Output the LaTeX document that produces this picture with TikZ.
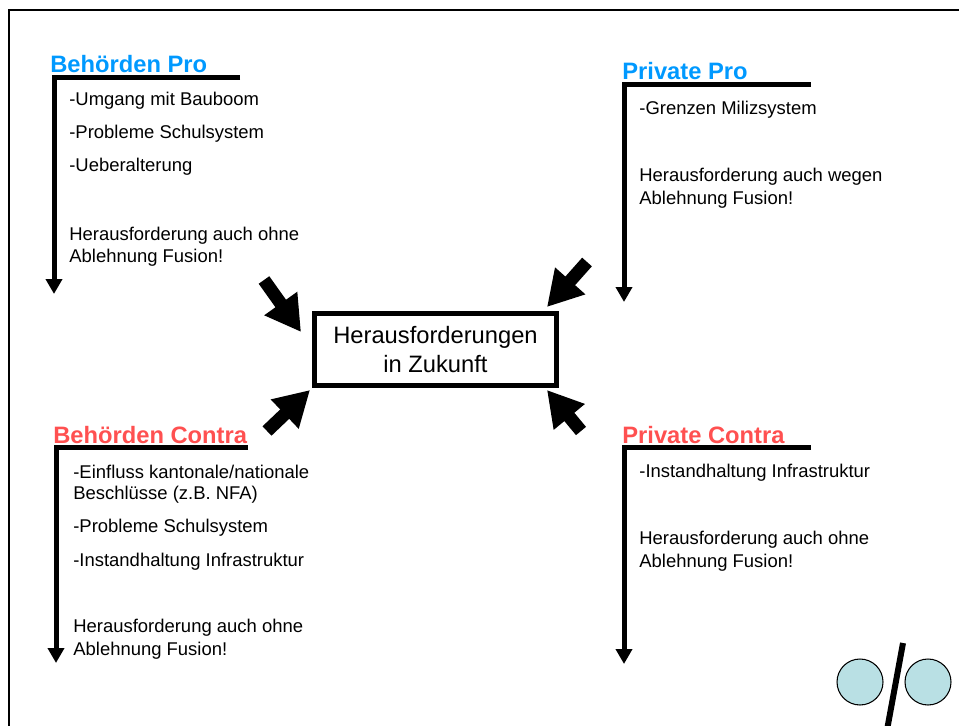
\documentclass[tikz,border=0pt]{standalone}
\usepackage{fontspec}
\setmainfont{Liberation Sans}
\usepackage{xcolor}
\usetikzlibrary{arrows.meta}

\definecolor{problue}{RGB}{0,153,255}
\definecolor{contrared}{RGB}{255,80,80}
\definecolor{circfill}{RGB}{185,224,228}

\begin{document}
\begin{tikzpicture}[x=0.02cm, y=-0.02cm,
    title/.style={anchor=base west, inner sep=0, font=\fontsize{13.5}{16}\selectfont\bfseries},
    item/.style={anchor=base west, inner sep=0, font=\fontsize{10.5}{12.5}\selectfont},
    bracket/.style={line width=0.1cm, -{Triangle[width=0.32cm,length=0.3cm]}},
    fat/.style={line width=0.26cm, -{Triangle[width=0.76cm,length=0.7cm]}}]
        \useasboundingbox (0,0) rectangle (959,726);

        % Frame
        \draw[line width=1.2pt] (960,10) -- (9,10) -- (9,727);

        % Centre
        \node[draw, line width=0.1cm, minimum width=4.84cm, minimum height=1.44cm, align=center,
              font=\fontsize{13.5}{16.4}\selectfont] (box) at (435.5,349.5) {Herausforderungen\\in Zukunft};

        % Behoerden Pro
        \node[title, text=problue] (bpTitle) at (50,73) {Behörden Pro};
        \coordinate (bpEnd) at (240,77.5);
        \coordinate (bpCorner) at (54,77.5);
        \coordinate (bpTip) at (54,294);
        \draw[bracket] (bpEnd) -- (bpCorner) -- (bpTip);
        \node[item] (bp1) at (69,106) {-Umgang mit Bauboom};
        \node[item] (bp2) at (69,139) {-Probleme Schulsystem};
        \node[item] (bp3) at (69,172) {-Ueberalterung};
        \node[item] (bp4) at (69,240) {Herausforderung auch ohne};
        \node[item] (bp5) at (69,262) {Ablehnung Fusion!};

        % Private Pro
        \node[title, text=problue] (ppTitle) at (622,80) {Private Pro};
        \coordinate (ppEnd) at (811,84.5);
        \coordinate (ppCorner) at (624,84.5);
        \coordinate (ppTip) at (624,302);
        \draw[bracket] (ppEnd) -- (ppCorner) -- (ppTip);
        \node[item] (pp1) at (639,115) {-Grenzen Milizsystem};
        \node[item] (pp2) at (639,182) {Herausforderung auch wegen};
        \node[item] (pp3) at (639,204) {Ablehnung Fusion!};

        % Behoerden Contra
        \node[title, text=contrared] (bcTitle) at (53,443) {Behörden Contra};
        \coordinate (bcEnd) at (248,447.5);
        \coordinate (bcCorner) at (56,447.5);
        \coordinate (bcTip) at (56,663);
        \draw[bracket] (bcEnd) -- (bcCorner) -- (bcTip);
        \node[item] (bc1) at (73,478) {-Einfluss kantonale/nationale};
        \node[item] (bc2) at (73,499) {Beschlüsse (z.B. NFA)};
        \node[item] (bc3) at (73,532) {-Probleme Schulsystem};
        \node[item] (bc4) at (73,566) {-Instandhaltung Infrastruktur};
        \node[item] (bc5) at (73,632) {Herausforderung auch ohne};
        \node[item] (bc6) at (73,655) {Ablehnung Fusion!};

        % Private Contra
        \node[title, text=contrared] (pcTitle) at (622,443) {Private Contra};
        \coordinate (pcEnd) at (811,447.5);
        \coordinate (pcCorner) at (624,447.5);
        \coordinate (pcTip) at (624,664);
        \draw[bracket] (pcEnd) -- (pcCorner) -- (pcTip);
        \node[item] (pc1) at (639,477) {-Instandhaltung Infrastruktur};
        \node[item] (pc2) at (639,544) {Herausforderung auch ohne};
        \node[item] (pc3) at (639,567) {Ablehnung Fusion!};

        % Arrows to the centre
        \coordinate (ulTail) at (264,280);
        \coordinate (urTail) at (587,262);
        \coordinate (llTail) at (267,431);
        \coordinate (lrTail) at (581,431);
        \draw[fat] (ulTail) -- ([shift={(-11,21)}]box.north west);
        \draw[fat] (urTail) -- ([shift={(-12,-4)}]box.north east);
        \draw[fat] (llTail) -- ([shift={(-2,2)}]box.south west);
        \draw[fat] (lrTail) -- ([shift={(-12,2)}]box.south east);

        % Circles
        \node[draw, circle, fill=circfill, line width=0.6pt, minimum size=0.92cm, inner sep=0] (leftCirc) at (860,682) {};
        \node[draw, circle, fill=circfill, line width=0.6pt, minimum size=0.92cm, inner sep=0] (rightCirc) at (928,682) {};
        \coordinate (slashTop) at (903,643);
        \coordinate (slashBot) at (887,730);
        \draw[line width=0.12cm] (slashTop) -- (slashBot);
    \end{tikzpicture}
\end{document}
